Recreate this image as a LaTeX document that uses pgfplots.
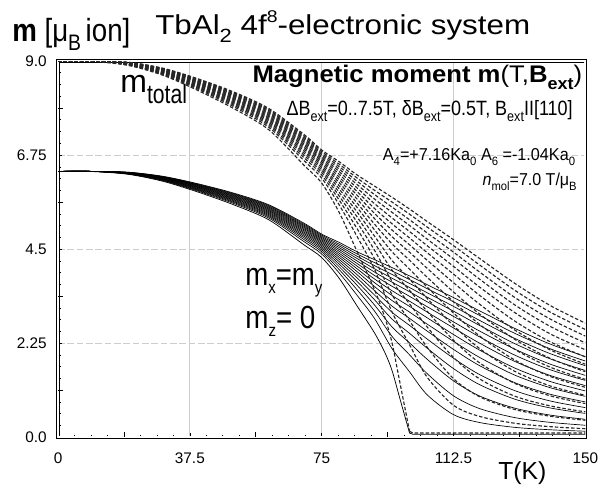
\documentclass[border=0pt]{standalone}
\usepackage{fontspec}
\setmainfont{Liberation Sans}
\usepackage{graphicx}
\usepackage{pgfplots}
\pgfplotsset{compat=1.18}
\usepackage{pgfplotstable}

\newcommand\lo[2][0.3em]{\raisebox{-#1}{\scalebox{0.7}{#2}}}
\newcommand\hi[1]{\raisebox{0.42em}{\scalebox{0.62}{#1}}}

% m_x = m_y for B_ext = 0.5 ... 7.5 T
\pgfplotstableread{
T b1 b2 b3 b4 b5 b6 b7 b8 b9 b10 b11 b12 b13 b14 b15
0 6.36 6.36 6.36 6.36 6.36 6.36 6.36 6.36 6.36 6.36 6.36 6.36 6.36 6.36 6.36
10 6.36 6.36 6.36 6.36 6.36 6.36 6.36 6.36 6.36 6.36 6.36 6.36 6.36 6.36 6.36
20 6.30 6.30 6.30 6.31 6.31 6.31 6.32 6.32 6.32 6.33 6.33 6.33 6.33 6.34 6.34
30 6.134 6.144 6.153 6.162 6.170 6.178 6.185 6.193 6.200 6.207 6.214 6.220 6.227 6.234 6.240
40 5.883 5.900 5.915 5.930 5.943 5.956 5.969 5.981 5.993 6.005 6.016 6.027 6.038 6.049 6.060
50 5.592 5.616 5.637 5.657 5.676 5.695 5.712 5.729 5.746 5.762 5.778 5.794 5.810 5.825 5.840
60 5.241 5.272 5.299 5.325 5.349 5.373 5.396 5.418 5.439 5.460 5.481 5.501 5.521 5.541 5.560
70 4.678 4.727 4.769 4.806 4.841 4.874 4.905 4.935 4.964 4.992 5.019 5.045 5.070 5.096 5.120
75 4.384 4.437 4.481 4.522 4.560 4.595 4.629 4.661 4.692 4.722 4.751 4.779 4.807 4.834 4.860
80 3.929 4.010 4.079 4.141 4.199 4.253 4.305 4.354 4.401 4.448 4.492 4.536 4.578 4.619 4.660
85 3.404 3.535 3.642 3.734 3.817 3.894 3.967 4.035 4.099 4.161 4.221 4.279 4.334 4.388 4.440
90 2.845 3.022 3.167 3.292 3.405 3.510 3.608 3.701 3.788 3.872 3.953 4.031 4.107 4.179 4.250
95 2.121 2.414 2.640 2.828 2.992 3.139 3.272 3.393 3.506 3.612 3.711 3.805 3.894 3.979 4.060
100 1.565 1.971 2.257 2.485 2.676 2.843 2.994 3.130 3.255 3.371 3.480 3.582 3.679 3.773 3.860
105 1.016 1.523 1.866 2.131 2.350 2.540 2.707 2.858 2.995 3.123 3.241 3.352 3.457 3.556 3.650
112.5 0.541 0.991 1.349 1.642 1.890 2.102 2.294 2.458 2.615 2.760 2.891 3.016 3.131 3.241 3.341
120 0.351 0.683 0.984 1.255 1.496 1.709 1.906 2.081 2.247 2.397 2.537 2.671 2.792 2.911 3.021
130 0.236 0.469 0.694 0.909 1.113 1.303 1.484 1.653 1.811 1.962 2.106 2.236 2.362 2.483 2.601
140 0.179 0.356 0.530 0.701 0.868 1.029 1.185 1.334 1.478 1.615 1.749 1.876 2.000 2.117 2.229
150 0.144 0.287 0.430 0.570 0.709 0.845 0.979 1.109 1.236 1.360 1.480 1.597 1.712 1.823 1.930
}\solidtab

% m_total for B_ext = 0.5 ... 7.5 T
\pgfplotstableread{
T d1 d2 d3 d4 d5 d6 d7 d8 d9 d10 d11 d12 d13 d14 d15
0 9.00 9.00 9.00 9.00 9.00 9.00 9.00 9.00 9.00 9.00 9.00 9.00 9.00 9.00 9.00
10 9.00 9.00 9.00 9.00 9.00 9.00 9.00 9.00 9.00 9.00 9.00 9.00 9.00 9.00 9.00
20 8.91 8.91 8.91 8.92 8.92 8.92 8.94 8.94 8.94 8.95 8.95 8.95 8.95 8.97 8.97
30 8.675 8.689 8.702 8.714 8.726 8.737 8.747 8.758 8.768 8.778 8.788 8.797 8.806 8.816 8.825
40 8.320 8.344 8.365 8.386 8.405 8.423 8.441 8.458 8.475 8.492 8.508 8.523 8.539 8.555 8.570
50 7.908 7.942 7.972 8.000 8.027 8.054 8.078 8.102 8.126 8.149 8.171 8.194 8.216 8.238 8.259
60 7.412 7.456 7.494 7.531 7.565 7.599 7.631 7.662 7.692 7.722 7.751 7.780 7.808 7.836 7.863
70 6.616 6.685 6.744 6.797 6.846 6.893 6.937 6.979 7.020 7.060 7.098 7.135 7.170 7.207 7.241
75 6.200 6.275 6.337 6.395 6.449 6.498 6.546 6.592 6.635 6.678 6.719 6.758 6.798 6.836 6.873
80 5.556 5.671 5.769 5.856 5.938 6.015 6.088 6.158 6.224 6.290 6.353 6.415 6.474 6.532 6.590
85 4.814 4.999 5.151 5.281 5.398 5.507 5.610 5.706 5.797 5.885 5.969 6.051 6.129 6.206 6.279
90 4.023 4.274 4.479 4.656 4.815 4.964 5.102 5.234 5.357 5.476 5.590 5.701 5.808 5.910 6.010
95 2.999 3.414 3.733 3.999 4.231 4.439 4.627 4.798 4.958 5.108 5.248 5.381 5.507 5.627 5.742
100 2.213 2.787 3.192 3.514 3.784 4.021 4.234 4.426 4.603 4.767 4.921 5.066 5.203 5.336 5.459
105 1.437 2.154 2.639 3.014 3.323 3.592 3.828 4.042 4.236 4.417 4.583 4.740 4.889 5.029 5.162
112.5 0.765 1.401 1.908 2.322 2.673 2.973 3.244 3.476 3.698 3.903 4.088 4.265 4.428 4.583 4.725
120 0.496 0.966 1.392 1.775 2.116 2.417 2.695 2.943 3.178 3.390 3.588 3.777 3.948 4.117 4.272
130 0.334 0.663 0.981 1.286 1.574 1.843 2.099 2.338 2.561 2.775 2.978 3.162 3.340 3.512 3.678
140 0.253 0.503 0.750 0.991 1.228 1.455 1.676 1.887 2.090 2.284 2.473 2.653 2.828 2.994 3.152
150 0.204 0.406 0.608 0.806 1.003 1.195 1.385 1.568 1.748 1.923 2.093 2.258 2.421 2.578 2.729
}\dashtab

\begin{document}
\begin{tikzpicture}
\path[use as bounding box] (-43.5pt,-36.75pt) rectangle (410.75pt,327.75pt);
\begin{axis}[
  at={(0,0)}, anchor=south west,
  scale only axis, width=395.25pt, height=282pt,
  xmin=0, xmax=150, ymin=0, ymax=9,
  xtick={0,37.5,75,112.5,150}, xticklabels={0,37.5,75,112.5,150},
  ytick={0,2.25,4.5,6.75,9}, yticklabels={0.0,2.25,4.5,6.75,9.0},
  minor x tick num=7, minor y tick num=7,
  extra x ticks={18.75,56.25,93.75,131.25}, extra x tick labels={},
  extra y ticks={1.125,3.375,5.625,7.875}, extra y tick labels={},
  extra tick style={grid=none, major tick length=4pt},
  tick align=inside, xtick pos=bottom, ytick pos=left,
  major tick length=3pt, minor tick length=2pt,
  tick style={black, line width=0.5pt},
  xmajorgrids, ymajorgrids,
  x grid style={black!20, line width=0.6pt},
  y grid style={black!20, line width=0.6pt, dash pattern=on 5pt off 2pt},
  axis line style={double distance=1.3pt, line width=0.55pt},
  tick label style={font=\fontsize{11.5}{12}\selectfont},
  xticklabel style={yshift=-8pt},
  yticklabel style={xshift=-5pt},
]
\pgfplotsinvokeforeach{1,...,15}{
  \addplot[black, line width=0.5pt, smooth] table[x=T, y=b#1]{\solidtab};
}
\pgfplotsinvokeforeach{1,...,15}{
  \addplot[black!85, line width=0.85pt, dash pattern=on 2.6pt off 1.5pt, smooth] table[x=T, y=d#1]{\dashtab};
}
% B_ext = 0
\addplot[black, line width=0.55pt, smooth] coordinates {
(0,6.36)(10,6.355)(20,6.29)(30,6.12)(40,5.86)(50,5.56)(60,5.20)(70,4.60)(75,4.30)(80,3.80)(85,3.15)(90,2.50)(93,2.02)(95,1.60)(97,1.00)(99,0.40)(100,0.10)};
\addplot[black, line width=0.55pt] coordinates {(100,0.10)(101,0.07)(150,0.07)};
\addplot[black!85, line width=0.85pt, dash pattern=on 2.6pt off 1.5pt, smooth] coordinates {
(0,9.00)(10,8.987)(20,8.895)(30,8.655)(40,8.287)(50,7.863)(60,7.354)(70,6.505)(75,6.081)(80,5.374)(85,4.455)(90,3.536)(93,2.857)(95,2.263)(97,1.414)(99,0.566)(100,0.141)};
\addplot[black!85, line width=0.85pt, dash pattern=on 2.6pt off 1.5pt] coordinates {(100,0.141)(101,0.10)(150,0.10)};
\end{axis}

% titles
\node[anchor=base west, inner sep=0] at (-34.5pt,297pt)
  {\resizebox{88.5pt}{\height}{\fontsize{24}{24}\selectfont\textbf{m} [μ\lo{B}\,ion]}};
\node[anchor=base, inner sep=0] at (213.4pt,302.25pt)
  {\resizebox{281pt}{\height}{\fontsize{20.5}{21}\selectfont TbAl\lo{2} 4f\hi{8}-electronic system}};

% inner annotations
\node[anchor=base east, inner sep=0] at (393pt,266.25pt)
  {\resizebox{247pt}{\height}{\fontsize{18}{18}\selectfont\bfseries Magnetic moment m\mdseries(T,\bfseries B\lo{ext}\mdseries)}};
\node[anchor=base east, inner sep=0] at (386pt,241.5pt)
  {\resizebox{214.5pt}{\height}{\fontsize{15.5}{16}\selectfont ΔB\lo{ext}=0..7.5T, δB\lo{ext}=0.5T, B\lo{ext}II[110]}};
\node[anchor=base east, inner sep=0] at (387.75pt,207.2pt)
  {\resizebox{144pt}{\height}{\fontsize{12.9}{13}\selectfont A\lo{4}=+7.16Ka\lo{0} A\lo{6} =-1.04Ka\lo{0}}};
\node[anchor=base east, inner sep=0] at (389pt,189pt)
  {\resizebox{70.5pt}{\height}{\fontsize{12.9}{13}\selectfont \textit{n}\lo{mol}=7.0 T/μ\lo{B}}};

\node[anchor=base west, inner sep=0] at (46.5pt,258.75pt)
  {\fontsize{24}{24}\selectfont m\raisebox{-8.25pt}{\resizebox{30pt}{\height}{\fontsize{20}{20}\selectfont total}}};
\node[anchor=base west, inner sep=0] at (140.25pt,114pt)
  {\resizebox{57.75pt}{\height}{\fontsize{24}{24}\selectfont m\raisebox{-6pt}{\fontsize{13}{13}\selectfont x}=m\raisebox{-6pt}{\fontsize{13}{13}\selectfont y}}};
\node[anchor=base west, inner sep=0] at (140.25pt,81.75pt)
  {\resizebox{52.5pt}{\height}{\fontsize{24}{24}\selectfont m\raisebox{-6pt}{\fontsize{13}{13}\selectfont z}= 0}};

\node[anchor=base, inner sep=0] at (348pt,-32pt)
  {\fontsize{18.5}{19}\selectfont T(K)};
\end{tikzpicture}
\end{document}
